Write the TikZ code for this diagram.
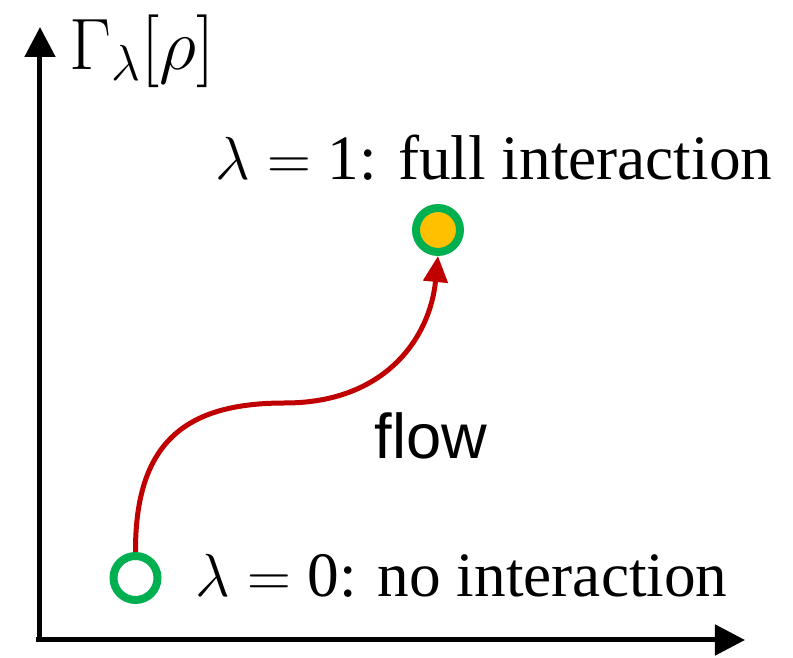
\documentclass[tikz,border=0pt]{standalone}
\usepackage{amsmath,amssymb}
\usepackage{fontspec}
\setmainfont{Liberation Serif}
\setsansfont{Liberation Sans}
\usetikzlibrary{arrows.meta, positioning}

\definecolor{dotgreen}{HTML}{00B050}
\definecolor{dotorange}{HTML}{FFC000}
\definecolor{flowred}{HTML}{C00000}

\begin{document}
\begin{tikzpicture}[>=Stealth, font=\fontsize{18}{21}\selectfont,
	axis/.style={line width=0.05cm, -{Triangle[length=0.3cm, width=0.3cm]}},
	statedot/.style={circle, draw=dotgreen, line width=0.08cm, minimum size=0.44cm, inner sep=0pt},
	flowline/.style={draw=flowred, line width=0.05cm, -{Triangle[length=0.26cm, width=0.24cm]}}]
	
	\useasboundingbox (0,0) rectangle (7.93,6.58);
	
	% 1. Axes
	\coordinate (origin) at (0.40, 0.18);
	\coordinate (ytip) at (0.40, 6.31);
	\coordinate (xtip) at (7.45, 0.18);
	\draw[axis] ([yshift=-0.025cm]origin) -- (ytip);
	\draw[axis] ([xshift=-0.04cm]origin) -- (xtip);
	\node[font=\fontsize{19.5}{22}\selectfont] (ylabel) at (1.42, 6.07) {$\Gamma_{\lambda}[\rho]$};
	
	% 2. End points of the flow
	\node[statedot, fill=white] (lam0) at (1.355, 0.80) {};
	\node[statedot, fill=dotorange] (lam1) at (4.38, 4.28) {};
	\node[anchor=base] (lab0) at (4.615, 0.61) {$\lambda = \text{0}$: no interaction};
	\node[anchor=base] (lab1) at (4.94, 4.78) {$\lambda = \text{1}$: full interaction};
	
	% 3. Flow curve
	\coordinate (mid) at (2.85, 2.55);
	\draw[flowline] (lam0.north) .. controls (1.35, 2.2) and (1.9, 2.55) .. (mid)
		.. controls (3.85, 2.55) and (4.3, 3.2) .. (lam1.south);
	\node[anchor=base, font=\sffamily\fontsize{18}{21}\selectfont] (flowlab) at (4.31, 1.99) {flow};
	
\end{tikzpicture}
\end{document}
